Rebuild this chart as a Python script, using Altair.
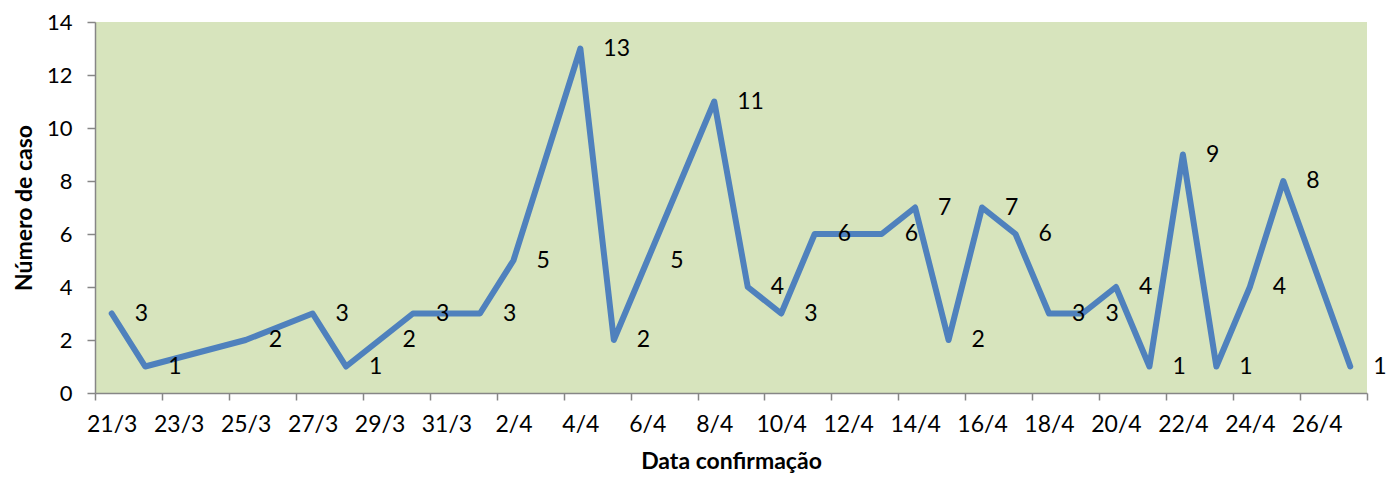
import altair as alt
import pandas as pd

# Data
dates = ["21/3", "22/3", "25/3", "27/3", "28/3", "29/3", "30/3", "1/4", "2/4",
         "4/4", "5/4", "6/4", "8/4", "9/4", "10/4", "11/4", "13/4", "14/4",
         "15/4", "16/4", "17/4", "18/4", "19/4", "20/4", "21/4", "22/4",
         "23/4", "24/4", "25/4", "27/4"]
cases = [3, 1, 2, 3, 1, 2, 3, 3, 5,
         13, 2, 5, 11, 4, 3, 6, 6, 7,
         2, 7, 6, 3, 3, 4, 1, 9,
         1, 4, 8, 1]
tick_labels = ["21/3", "23/3", "25/3", "27/3", "29/3", "31/3", "2/4", "4/4",
               "6/4", "8/4", "10/4", "12/4", "14/4", "16/4", "18/4", "20/4",
               "22/4", "24/4", "26/4"]
y_ticks = [0, 2, 4, 6, 8, 10, 12, 14]

start = pd.Timestamp("2020-03-21")
parsed = pd.to_datetime([d + "/2020" for d in dates], format="%d/%m/%Y")
df = pd.DataFrame({
    "data": dates,
    "dia": [(p - start).days for p in parsed],
    "casos": cases,
})

n_days = 38
W, H = 1272, 371
half_day_px = W / n_days / 2

tick_vals = [-0.5 + 2 * k for k in range(len(tick_labels) + 1)]
lab_arr = "[" + ",".join("'" + t + "'" for t in tick_labels) + "]"
label_expr = f"{lab_arr}[round((datum.value + 0.5) / 2)] || ''"

FONT = "Lato"
AX = "#868686"

x = alt.X(
    "dia:Q",
    scale=alt.Scale(domain=[-0.5, n_days - 0.5], nice=False, zero=False),
    axis=alt.Axis(
        values=tick_vals, labelExpr=label_expr, labelOffset=half_day_px,
        labelFlush=False, labelOverlap=False, labelBound=False,
        title="Data confirmação", grid=False, domainColor=AX, tickColor=AX,
        tickSize=7, domainWidth=1.5, tickWidth=1.5, labelFontSize=23,
        labelFont=FONT, labelColor="#000000", labelPadding=13,
        titleFont=FONT, titleFontSize=23, titleFontWeight="bold",
        titleColor="#000000", titlePadding=14,
    ),
)
y = alt.Y(
    "casos:Q",
    scale=alt.Scale(domain=[0, 14], nice=False),
    axis=alt.Axis(
        values=y_ticks, title="Número de caso", grid=False, domainColor=AX,
        tickColor=AX, tickSize=8, domainWidth=1.5, tickWidth=1.5,
        labelFontSize=22, labelFont=FONT, labelColor="#000000",
        labelFlush=False, labelOverlap=False, labelBound=False,
        labelPadding=15, titleFont=FONT, titleFontSize=23,
        titleFontWeight="bold", titleColor="#000000", titlePadding=10,
    ),
)

base = alt.Chart(df)
line = base.mark_line(color="#4F81BD", strokeWidth=6, strokeJoin="round",
                      strokeCap="round").encode(x=x, y=y)
labels = base.mark_text(align="left", baseline="middle", dx=23, font=FONT,
                        fontSize=23, color="#000000").encode(
    x="dia:Q", y="casos:Q", text="casos:Q")

chart = (line + labels).properties(
    width=W, height=H,
    autosize=alt.AutoSizeParams(type="none"),
    padding={"left": 87, "top": 14, "right": 22, "bottom": 82},
    background="#FFFFFF",
).configure_view(fill="#D7E4BD", stroke=None)

chart.save("out.html", embed_options={"renderer": "svg", "actions": False})
